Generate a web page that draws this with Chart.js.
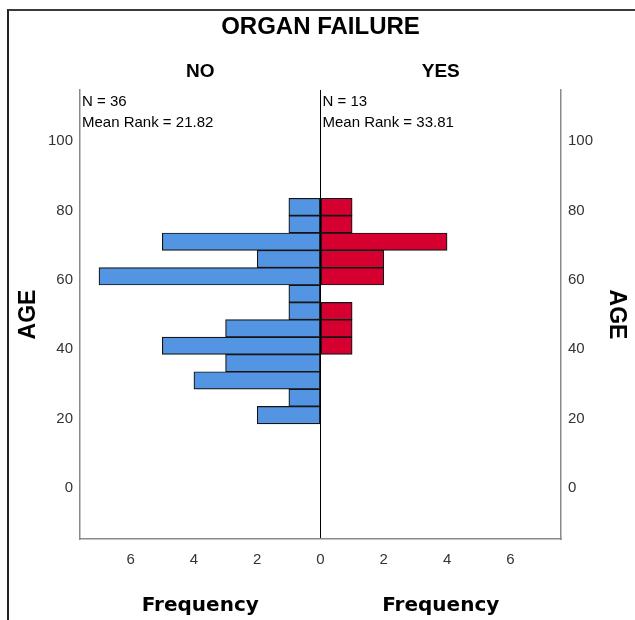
<!DOCTYPE html>
<html>
<head>
<meta charset="utf-8">
<title>Organ failure - age pyramid</title>
<script src="https://cdn.jsdelivr.net/npm/chart.js@4.4.1/dist/chart.umd.min.js"></script>
<style>
    body { margin: 0; background: #fff; }
    #wrap { position: relative; width: 635px; height: 620px; overflow: hidden; }
    #frame { position: absolute; left: 7px; top: 9px; right: 0; bottom: 0;
             border-top: 2px solid #3a3a3a; border-left: 2px solid #222; }
    #pyramid { position: absolute; left: 0; top: 0; }
</style>
</head>
<body>
<div id="wrap">
    <div id="frame"></div>
    <canvas id="pyramid" width="635" height="620"></canvas>
</div>
<script>
// age bins (bar centres) and frequencies per group
const ageBins = [81, 76, 71, 66, 61, 56, 51, 46, 41, 36, 31, 26, 21];
const noFreq  = [1, 1, 5, 2, 7, 1, 1, 3, 5, 3, 4, 1, 2];
const yesFreq = [1, 1, 4, 2, 2, 0, 1, 1, 1, 0, 0, 0, 0];

const groupNames = ['NO', 'YES'];
const groupN = [36, 13];
const meanRank = ['21.82', '33.81'];

const xTicks = [-6, -4, -2, 0, 2, 4, 6];
const yTicks = [0, 20, 40, 60, 80, 100];

const chartTitle = 'ORGAN FAILURE';
const axisTitle = 'AGE';
const freqTitle = 'Frequency';

const fontFam = "'Liberation Sans', Arial, sans-serif";

function setTicks(list) {
    return function (scale) {
        scale.ticks = list.map(v => ({ value: v }));
    };
}

const textPlugin = {
    id: 'pyramidText',
    afterDraw(chart) {
        const { ctx, chartArea, scales } = chart;
        const mid = scales.x.getPixelForValue(0);
        const centres = [(chartArea.left + mid) / 2, (mid + chartArea.right) / 2];
        const starts = [chartArea.left, mid];
        ctx.save();
        ctx.fillStyle = '#000';
        ctx.textAlign = 'center';
        ctx.textBaseline = 'middle';
        ctx.font = 'bold 24px ' + fontFam;
        ctx.fillText(chartTitle, mid, 27);
        ctx.font = 'bold 19px ' + fontFam;
        for (let i = 0; i < 2; i++) {
            ctx.fillText(groupNames[i], centres[i], 72);
        }
        ctx.font = "bold 20px 'DejaVu Sans', sans-serif";
        for (let i = 0; i < 2; i++) {
            ctx.fillText(freqTitle, centres[i], 606);
        }
        ctx.textAlign = 'left';
        ctx.textBaseline = 'alphabetic';
        ctx.font = '15px ' + fontFam;
        for (let i = 0; i < 2; i++) {
            ctx.fillText('N = ' + groupN[i], starts[i] + 2, 106);
            ctx.fillText('Mean Rank = ' + meanRank[i], starts[i] + 2, 127);
        }
        ctx.restore();
    }
};

const yAxisBase = {
    type: 'linear',
    min: -14.7,
    max: 114.7,
    offset: false,
    afterBuildTicks: setTicks(yTicks),
    grid: { display: false, offset: false, drawTicks: false },
    border: { color: '#8a8a8a', width: 1.5 },
    ticks: { color: '#333', font: { family: fontFam, size: 15 }, padding: 7 }
};

new Chart(document.getElementById('pyramid'), {
    type: 'bar',
    data: {
        datasets: [{
            label: groupNames[0],
            data: ageBins.map((a, i) => ({ x: -noFreq[i], y: a })),
            backgroundColor: '#5495E3',
            borderColor: '#151515',
            borderWidth: 1.2,
            borderSkipped: false,
            grouped: false,
            barPercentage: 1,
            categoryPercentage: 1
        }, {
            label: groupNames[1],
            data: ageBins.map((a, i) => ({ x: yesFreq[i], y: a })),
            backgroundColor: '#D5002F',
            borderColor: '#151515',
            borderWidth: 1.2,
            borderSkipped: false,
            grouped: false,
            barPercentage: 1,
            categoryPercentage: 1
        }]
    },
    options: {
        indexAxis: 'y',
        responsive: false,
        animation: false,
        layout: { padding: { top: 90, left: 0, right: 0, bottom: 0 } },
        scales: {
            x: {
                type: 'linear',
                min: -7.6,
                max: 7.6,
                afterBuildTicks: setTicks(xTicks),
                afterFit: (s) => { s.height = 81; },
                grid: {
                    z: 1,
                    drawTicks: false,
                    color: (c) => (c.tick && c.tick.value === 0) ? '#000' : 'rgba(0,0,0,0)',
                    lineWidth: 1
                },
                border: { z: 1, color: '#8a8a8a', width: 1.5 },
                ticks: {
                    color: '#333',
                    font: { family: fontFam, size: 15 },
                    padding: 12,
                    callback: (v) => Math.abs(v)
                }
            },
            y: Object.assign({}, yAxisBase, {
                position: 'left',
                afterFit: (s) => { s.width = 80; },
                title: {
                    display: true, text: axisTitle, color: '#000',
                    font: { family: fontFam, size: 23, weight: 'bold' },
                    padding: { top: 14.5, bottom: 0 }
                }
            }),
            y2: Object.assign({}, yAxisBase, {
                position: 'right',
                afterFit: (s) => { s.width = 74; },
                title: {
                    display: true, text: axisTitle, color: '#000',
                    font: { family: fontFam, size: 23, weight: 'bold' },
                    padding: { top: 4.5, bottom: 0 }
                }
            })
        },
        plugins: {
            legend: { display: false },
            title: { display: false },
            tooltip: { enabled: false }
        }
    },
    plugins: [textPlugin]
});
</script>
</body>
</html>
